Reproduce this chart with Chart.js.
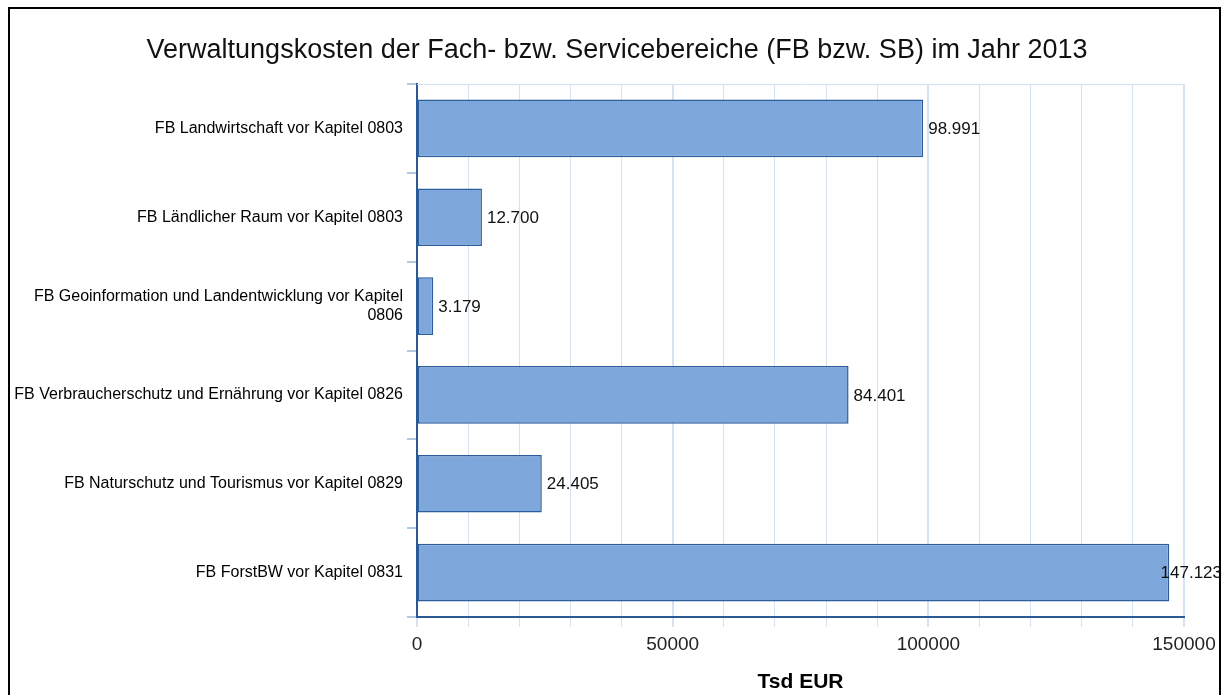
<!DOCTYPE html>
<html>
<head>
<meta charset="utf-8">
<script src="https://cdn.jsdelivr.net/npm/chart.js@4.4.0/dist/chart.umd.min.js"></script>
<style>
  html, body { margin: 0; padding: 0; background: #fff; }
  #wrap { width: 1227px; height: 695px; }
</style>
</head>
<body>
<div id="wrap"><canvas id="costChart" width="1227" height="695"></canvas></div>
<script>
// Chart data
const categories = [
  'FB Landwirtschaft vor Kapitel 0803',
  'FB Ländlicher Raum vor Kapitel 0803',
  ['FB Geoinformation und Landentwicklung vor Kapitel', '0806'],
  'FB Verbraucherschutz und Ernährung vor Kapitel 0826',
  'FB Naturschutz und Tourismus vor Kapitel 0829',
  'FB ForstBW vor Kapitel 0831'
];
const costValues = [98991, 12700, 3179, 84401, 24405, 147123];
const xTickLabels = [0, 50000, 100000, 150000];
const chartTitle = 'Verwaltungskosten der Fach- bzw. Servicebereiche (FB bzw. SB) im Jahr 2013';
const axisTitle = 'Tsd EUR';

// Colours
const barFill = '#7ea7dc';
const barLine = '#2c5d9c';
const axisLine = '#2a5a96';
const gridLine = '#d6e2f0';

Chart.defaults.font.family = '"Liberation Sans", Arial, sans-serif';

// Black frame round the picture and a faint line on top of the plot
const framePlugin = {
  id: 'frame',
  beforeDatasetsDraw(chart) {
    const { ctx, chartArea } = chart;
    ctx.save();
    ctx.strokeStyle = gridLine;
    ctx.lineWidth = 1;
    ctx.beginPath();
    ctx.moveTo(chartArea.left, chartArea.top + 0.5);
    ctx.lineTo(chartArea.right, chartArea.top + 0.5);
    ctx.stroke();
    ctx.restore();
  },
  afterDraw(chart) {
    const ctx = chart.ctx;
    ctx.save();
    ctx.strokeStyle = '#000';
    ctx.lineWidth = 2;
    ctx.strokeRect(9, 8, 1211, 700);
    ctx.restore();
  }
};

// Value labels next to the bars, German number format
const valueLabels = {
  id: 'valueLabels',
  afterDatasetsDraw(chart) {
    const ctx = chart.ctx;
    const meta = chart.getDatasetMeta(0);
    ctx.save();
    ctx.font = '17px "Liberation Sans", Arial, sans-serif';
    ctx.fillStyle = '#111';
    ctx.textBaseline = 'middle';
    meta.data.forEach((bar, i) => {
      const text = costValues[i].toLocaleString('de-DE');
      const w = ctx.measureText(text).width;
      const x = Math.min(bar.x + 5, 1222 - w);
      ctx.fillText(text, x, bar.y + 1);
    });
    ctx.restore();
  }
};

const costChart = new Chart(document.getElementById('costChart').getContext('2d'), {
  type: 'bar',
  data: {
    labels: categories,
    datasets: [{
      label: axisTitle,
      data: costValues,
      backgroundColor: barFill,
      borderColor: barLine,
      borderWidth: 1.5,
      borderSkipped: false,
      barPercentage: 0.65,
      categoryPercentage: 1
    }]
  },
  options: {
    indexAxis: 'y',
    responsive: false,
    animation: false,
    layout: { padding: { left: 7, right: 0, top: 0, bottom: 0 } },
    plugins: {
      legend: { display: false },
      tooltip: { enabled: false },
      title: {
        display: true,
        text: chartTitle,
        color: '#111',
        font: { size: 27, weight: 'normal' },
        padding: { top: 34, bottom: 17.6 }
      }
    },
    scales: {
      x: {
        min: 0,
        max: 150000,
        ticks: {
          stepSize: 10000,
          autoSkip: false,
          maxRotation: 0,
          color: '#222',
          font: { size: 19 },
          padding: 6,
          callback: v => xTickLabels.includes(v) ? String(v) : ''
        },
        grid: {
          color: gridLine,
          lineWidth: c => (c.tick && xTickLabels.includes(c.tick.value)) ? 2 : 1,
          tickLength: 10
        },
        border: { color: axisLine, width: 2 },
        title: {
          display: true,
          text: axisTitle,
          color: '#000',
          font: { size: 21, weight: 'bold' },
          padding: { top: 0, bottom: 0 }
        },
        afterFit: s => { s.height = 78; }
      },
      y: {
        ticks: {
          color: '#000',
          font: { size: 16, lineHeight: 1.15 },
          padding: 4,
          autoSkip: false
        },
        grid: {
          offset: true,
          drawOnChartArea: false,
          tickLength: 10,
          color: '#b3c9e2',
          lineWidth: 2
        },
        border: { color: axisLine, width: 2 },
        afterFit: s => { s.width = 410; }
      },
      // empty right axis, only keeps room for the last value label
      yRight: {
        type: 'linear',
        position: 'right',
        grid: { display: false, drawTicks: false },
        border: { display: false },
        ticks: { display: false },
        afterFit: s => { s.width = 43; }
      }
    }
  },
  plugins: [framePlugin, valueLabels]
});
</script>
</body>
</html>
